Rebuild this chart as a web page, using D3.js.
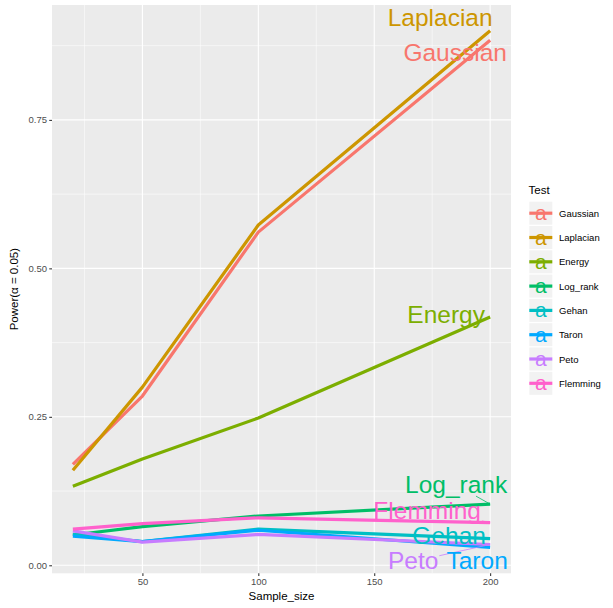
<!DOCTYPE html>
<html><head><meta charset="utf-8">
<script src="https://cdn.jsdelivr.net/npm/d3@7"></script>
<style>body{margin:0;background:#fff}svg{display:block}text{font-family:"Liberation Sans",Arial,Helvetica,sans-serif}</style>
</head><body><svg id="c" width="613" height="608"></svg>
<script>
const sampleSizes = [20, 50, 100, 200];
const tests = ["Gaussian","Laplacian","Energy","Log_rank","Gehan","Taron","Peto","Flemming"];
const colors = ["#F8766D","#CD9600","#7CAE00","#00BE67","#00BFC4","#00A9FF","#C77CFF","#FF61CC"];
const gaussian  = [0.170, 0.285, 0.561, 0.884];
const laplacian = [0.160, 0.300, 0.573, 0.900];
const energy    = [0.133, 0.179, 0.248, 0.418];
const logRank   = [0.051, 0.065, 0.083, 0.103];
const gehan     = [0.052, 0.040, 0.061, 0.045];
const taron     = [0.049, 0.040, 0.059, 0.030];
const peto      = [0.058, 0.039, 0.052, 0.035];
const flemming  = [0.061, 0.070, 0.080, 0.072];
const seriesValues = [gaussian, laplacian, energy, logRank, gehan, taron, peto, flemming];
const xTicks = [50, 100, 150, 200];
const yTicks = [0, 0.25, 0.5, 0.75];
const yTickLabels = ["0.00","0.25","0.50","0.75"];
// label offsets (px) from each series' last point: [dx, dy(baseline)]
const labelOffsets = {Gaussian:[-35,21],Laplacian:[-50,-5],Energy:[-44,6],Log_rank:[-34,-11],Gehan:[-41,5],Taron:[-13,22],Peto:[-77,25],Flemming:[-63,-4]};

const svg = d3.select("#c");
const L = 52, R = 511, T = 5, B = 573.3;
const xmin = d3.min(sampleSizes), xmax = d3.max(sampleSizes);
const allV = seriesValues.flat();
const ymin = d3.min(allV), ymax = d3.max(allV);
const xe = (xmax - xmin) * 0.05, ye = (ymax - ymin) * 0.05;
const x = d3.scaleLinear().domain([xmin - xe, xmax + xe]).range([L, R]);
const y = d3.scaleLinear().domain([ymin - ye, ymax + ye]).range([B, T]);

svg.append("rect").attr("x", L).attr("y", T).attr("width", R - L).attr("height", B - T).attr("fill", "#EBEBEB");
const g = svg.append("g");
const xMinor = [25, 75, 125, 175], yMinor = [0.125, 0.375, 0.625, 0.875];
xMinor.forEach(v => g.append("line").attr("x1", x(v)).attr("x2", x(v)).attr("y1", T).attr("y2", B).attr("stroke", "#fff").attr("stroke-width", 0.55));
yMinor.forEach(v => g.append("line").attr("y1", y(v)).attr("y2", y(v)).attr("x1", L).attr("x2", R).attr("stroke", "#fff").attr("stroke-width", 0.55));
xTicks.forEach(v => g.append("line").attr("x1", x(v)).attr("x2", x(v)).attr("y1", T).attr("y2", B).attr("stroke", "#fff").attr("stroke-width", 1.1));
yTicks.forEach(v => g.append("line").attr("y1", y(v)).attr("y2", y(v)).attr("x1", L).attr("x2", R).attr("stroke", "#fff").attr("stroke-width", 1.1));

const xAxis = d3.axisBottom(x).tickValues(xTicks).tickSize(2.75).tickPadding(2.2);
const ax = svg.append("g").attr("transform", `translate(0,${B})`).call(xAxis);
const yAxis = d3.axisLeft(y).tickValues(yTicks).tickFormat((d, i) => yTickLabels[i]).tickSize(2.75).tickPadding(2.2);
const ay = svg.append("g").attr("transform", `translate(${L},0)`).call(yAxis);
[ax, ay].forEach(a => {
  a.select(".domain").remove();
  a.selectAll(".tick line").attr("stroke", "#333").attr("stroke-width", 1.07);
  a.selectAll(".tick text").attr("fill", "#4D4D4D").attr("font-size", "9.5px").attr("font-family", "Liberation Sans, Arial, sans-serif");
});
svg.append("text").attr("x", (L + R) / 2).attr("y", 600).attr("text-anchor", "middle").attr("font-size", "11.5px").attr("fill", "#000").text("Sample_size");
svg.append("text").attr("transform", `translate(18,${(T + B) / 2}) rotate(-90)`).attr("text-anchor", "middle").attr("font-size", "11.5px").attr("fill", "#000").text("Power(α = 0.05)");

const line = d3.line().x((d, i) => x(sampleSizes[i])).y(d => y(d));
seriesValues.forEach((vals, k) => {
  svg.append("path").attr("d", line(vals)).attr("fill", "none").attr("stroke", colors[k]).attr("stroke-width", 3.2).attr("stroke-linejoin", "round");
});

const segG = svg.append("g"), labG = svg.append("g");
seriesValues.forEach((vals, k) => {
  const name = tests[k];
  const px = x(sampleSizes[sampleSizes.length - 1]), py = y(vals[vals.length - 1]);
  const [dx, dy] = labelOffsets[name];
  const t = labG.append("text").attr("x", px + dx).attr("y", py + dy).attr("text-anchor", "middle")
    .attr("font-size", "24.5px").attr("fill", colors[k]).text(name);
  const bb = t.node().getBBox();
  const pad = 1;
  const bx0 = bb.x - pad, bx1 = bb.x + bb.width + pad, by0 = bb.y + 3, by1 = bb.y + bb.height - 2;
  const cx = (bx0 + bx1) / 2, cy = (by0 + by1) / 2;
  const qx = Math.max(bx0, Math.min(bx1, px)), qy = Math.max(by0, Math.min(by1, py));
  const dist = Math.hypot(px - qx, py - qy);
  if (dist > 4) {
    const vx = px - cx, vy = py - cy;
    let tt = 1;
    if (vx !== 0) tt = Math.min(tt, Math.abs(((vx > 0 ? bx1 : bx0) - cx) / vx));
    if (vy !== 0) tt = Math.min(tt, Math.abs(((vy > 0 ? by1 : by0) - cy) / vy));
    segG.append("line").attr("x1", cx + vx * tt).attr("y1", cy + vy * tt).attr("x2", px).attr("y2", py)
      .attr("stroke", colors[k]).attr("stroke-width", 0.8);
  }
});

const lg = svg.append("g");
lg.append("text").attr("x", 528.5).attr("y", 193.5).attr("font-size", "11.5px").attr("fill", "#000").text("Test");
tests.forEach((name, k) => {
  const ky = 201.7 + k * 24.3;
  const kg = lg.append("g").attr("transform", `translate(529.3,${ky})`);
  kg.append("rect").attr("width", 23).attr("height", 23).attr("fill", "#F2F2F2");
  kg.append("line").attr("x1", 0).attr("x2", 23).attr("y1", 11.5).attr("y2", 11.5).attr("stroke", colors[k]).attr("stroke-width", 3.2);
  kg.append("text").attr("x", 11.5).attr("y", 18.5).attr("text-anchor", "middle").attr("font-size", "21px").attr("fill", colors[k]).text("a");
  lg.append("text").attr("x", 559).attr("y", ky + 15).attr("font-size", "9.5px").attr("fill", "#000").text(name);
});
</script></body></html>
